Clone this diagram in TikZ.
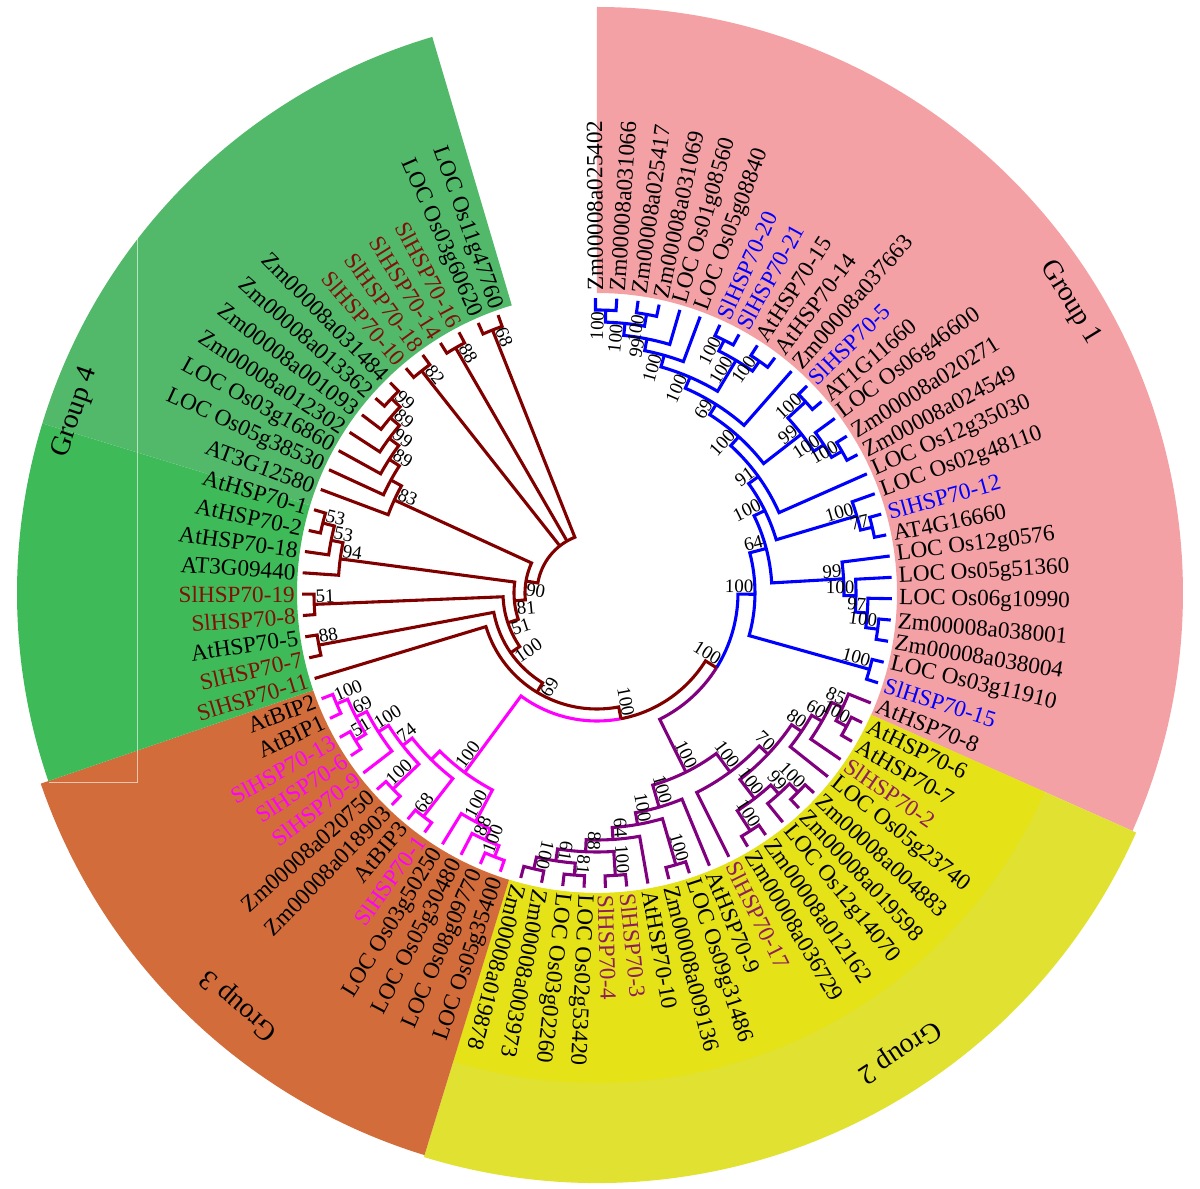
\documentclass[tikz,border=0pt]{standalone}
\usepackage{fontspec}
\setmainfont{Liberation Serif}
\usepackage{xcolor}
\usepackage{tikz}
\usetikzlibrary{positioning}

\definecolor{grpone}{RGB}{244,161,166}
\definecolor{grptwo}{RGB}{229,226,24}
\definecolor{grptwoout}{RGB}{225,225,50}
\definecolor{grpthree}{RGB}{211,108,59}
\definecolor{grpfour}{RGB}{82,185,106}
\definecolor{grpfourlow}{RGB}{62,187,88}
\definecolor{brblue}{RGB}{0,0,255}
\definecolor{brpurple}{RGB}{128,0,128}
\definecolor{brmag}{RGB}{255,0,255}
\definecolor{brbrown}{RGB}{128,0,0}
\definecolor{slpurple}{RGB}{140,30,90}
\definecolor{slbrown}{RGB}{128,16,8}

% angle of leaf position p
\newcommand\ang[1]{(90.3-4.155*((#1)-1))}
% node: radius, child p1 at r1, child p2 at r2
\newcommand\nd[6][]{\draw[#1] ({\ang{#3}}:#4) -- ({\ang{#3}}:#2) arc[start angle={\ang{#3}}, end angle={\ang{#5}}, radius=#2] -- ({\ang{#5}}:#6);}
% half node: radius, child p at rc, node p
\newcommand\hb[5][]{\draw[#1] ({\ang{#3}}:#4) -- ({\ang{#3}}:#2) arc[start angle={\ang{#3}}, end angle={\ang{#5}}, radius=#2];}
\newcommand\rb[4][]{\draw[#1] ({\ang{#2}}:#3) -- ({\ang{#2}}:#4);}
% leaf labels
\newcommand\lfr[3][black]{\node[leaf, anchor=west, text=#1, rotate={\ang{#2}}] (L#2) at ({\ang{#2}}:302) {#3};}
\newcommand\lfl[3][black]{\node[leaf, anchor=east, text=#1, rotate={\ang{#2}+180}] (L#2) at ({\ang{#2}}:302) {#3};}
% bootstrap values
\newcommand\bsr[4]{\node[bsn, anchor=south east, rotate={\ang{#2}}] (#1) at ({\ang{#2}}:#3) {#4};}
\newcommand\bsl[4]{\node[bsn, anchor=south west, rotate={\ang{#2}+180}] (#1) at ({\ang{#2}}:#3) {#4};}
\newcommand\bsb[4]{\node[bsn, anchor=north west, rotate={\ang{#2}+180}] (#1) at ({\ang{#2}}:#3) {#4};}
% sector
\newcommand\sect[5]{\fill[#1] (#2:#4) arc[start angle=#2, end angle=#3, radius=#4] -- (#3:#5) arc[start angle=#3, end angle=#2, radius=#5] -- cycle;}

\begin{document}
\begin{tikzpicture}[x=0.25mm, y=0.25mm,
	tree/.style={line width=2.2pt, line join=miter},
	gb/.style={tree, brblue}, gp/.style={tree, brpurple},
	gm/.style={tree, brmag}, gr/.style={tree, brbrown},
	leaf/.style={inner sep=0pt, font=\fontsize{16.5}{18}\selectfont},
	bsn/.style={inner sep=1pt, font=\fontsize{13.5}{14}\selectfont},
	grp/.style={font=\fontsize{20}{22}\selectfont}]
	\useasboundingbox (-597,-596) rectangle (603,593);

	% group backgrounds
	\sect{grpone}{90}{-23.96}{300}{586}
	\sect{grptwoout}{-23.96}{-107.06}{300}{590}
	\sect{grptwo}{-23.96}{-107.06}{300}{490}
	\sect{grpthree}{-107.06}{-161.08}{300}{588}
	\sect{grpfourlow}{-161.08}{-197}{300}{580}
	\sect{grpfour}{-197}{-253.5}{300}{580}
	\draw[white, opacity=.6, line width=0.6pt] (-460,365) -- (-460,-189) -- (-548,-189);

	% group 1
	\nd[gb]{283}{1}{295}{2}{295}
	\nd[gb]{283}{3}{295}{4}{295}
	\nd[gb]{271}{1.5}{283}{3.5}{283}
	\nd[gb]{259}{2.5}{271}{5}{295}
	\nd[gb]{247}{3.75}{259}{6}{295}
	\nd[gb]{283}{7}{295}{8}{295}
	\nd[gb]{283}{9}{295}{10}{295}
	\nd[gb]{271}{7.5}{283}{9.5}{283}
	\nd[gb]{235}{4.875}{247}{8.5}{271}
	\nd[gb]{223}{6.6875}{235}{11}{295}
	\nd[gb]{283}{12}{295}{13}{295}
	\nd[gb]{283}{15}{295}{16}{295}
	\nd[gb]{271}{14}{295}{15.5}{283}
	\nd[gb]{259}{12.5}{283}{14.75}{271}
	\nd[gb]{211}{8.84375}{223}{13.625}{259}
	\nd[gb]{199}{11.234375}{211}{17}{295}
	\nd[gb]{283}{19}{295}{20}{295}
	\nd[gb]{271}{18}{295}{19.5}{283}
	\nd[gb]{187}{14.1171875}{199}{18.75}{271}
	\nd[gb]{283}{24}{295}{25}{295}
	\nd[gb]{271}{23}{295}{24.5}{283}
	\nd[gb]{259}{22}{295}{23.75}{271}
	\nd[gb]{247}{21}{295}{22.875}{259}
	\nd[gb]{175}{16.43359375}{187}{21.9375}{247}
	\nd[gb]{283}{26}{295}{27}{295}
	\nd[gb]{158}{19.185546875}{175}{26.5}{283}

	% group 2
	\nd[gp]{283}{29}{295}{30}{295}
	\nd[gp]{271}{28}{295}{29.5}{283}
	\nd[gp]{259}{28.75}{271}{31}{295}
	\nd[gp]{247}{29.875}{259}{32}{295}
	\nd[gp]{283}{33}{295}{34}{295}
	\nd[gp]{271}{33.5}{283}{35}{295}
	\nd[gp]{283}{36}{295}{37}{295}
	\nd[gp]{259}{34.25}{271}{36.5}{283}
	\nd[gp]{235}{30.9375}{247}{35.375}{259}
	\nd[gp]{223}{33.15625}{235}{38}{295}
	\nd[gp]{283}{47}{295}{48}{295}
	\nd[gp]{283}{45}{295}{46}{295}
	\nd[gp]{271}{45.5}{283}{47.5}{283}
	\nd[gp]{283}{43}{295}{44}{295}
	\nd[gp]{259}{43.5}{283}{46.5}{271}
	\nd[gp]{247}{42}{295}{45}{259}
	\nd[gp]{283}{40}{295}{41}{295}
	\nd[gp]{235}{40.5}{283}{43.5}{247}
	\nd[gp]{223}{39}{295}{42}{235}
	\nd[gp]{200}{35.578125}{223}{40.5}{223}

	% group 3
	\nd[gm]{283}{60}{295}{61}{295}
	\nd[gm]{283}{58}{295}{59}{295}
	\nd[gm]{271}{58.5}{283}{60.5}{283}
	\nd[gm]{259}{57}{295}{59.5}{271}
	\nd[gm]{283}{55}{295}{56}{295}
	\nd[gm]{247}{55.5}{283}{58.25}{259}
	\nd[gm]{283}{53}{295}{54}{295}
	\nd[gm]{235}{53.5}{283}{56.875}{247}
	\nd[gm]{283}{49}{295}{50}{295}
	\nd[gm]{271}{49.5}{283}{51}{295}
	\nd[gm]{259}{50.25}{271}{52}{295}
	\nd[gm]{223}{51.125}{259}{55.1875}{235}

	% group 4
	\nd[gr]{283}{63}{295}{64}{295}
	\nd[gr]{283}{65}{295}{66}{295}
	\nd[gr]{283}{69}{295}{70}{295}
	\nd[gr]{271}{68}{295}{69.5}{283}
	\nd[gr]{259}{67}{295}{68.75}{271}
	\nd[gr]{283}{76}{295}{77}{295}
	\nd[gr]{271}{75}{295}{76.5}{283}
	\nd[gr]{259}{74}{295}{75.75}{271}
	\nd[gr]{247}{73}{295}{74.875}{259}
	\nd[gr]{235}{72}{295}{73.9375}{247}
	\nd[gr]{223}{71}{295}{72.96875}{235}
	\nd[gr]{283}{78}{295}{79}{295}
	\nd[gr]{283}{80}{295}{81}{295}
	\nd[gr]{283}{82}{295}{83}{295}

	% backbone
	\hb[gb]{141}{22.8427734375}{158}{30.44091796875}
	\hb[gp]{141}{38.0390625}{200}{30.44091796875}
	\hb[gm]{128}{53.15625}{223}{41.798583984375}
	\hb[gr]{128}{30.44091796875}{141}{41.798583984375}
	\nd[gr]{116}{41.798583984375}{128}{62}{295}
	\nd[gr]{105}{51.8992919921875}{116}{63.5}{283}
	\nd[gr]{94}{57.69964599609375}{105}{65.5}{283}
	\nd[gr]{83}{61.599823}{94}{67.875}{259}
	\nd[gr]{72}{64.737411}{83}{71.984375}{223}
	\nd[gr]{60}{68.360893}{72}{82.5}{283}
	\rb[gr]{78.5}{60}{283}
	\rb[gr]{80.5}{60}{283}

	% bootstrap values
	\bsr{bA1}{1.5}{283}{100} \bsr{bA2}{3.5}{283}{100} \bsr{bA3}{2.5}{271}{100}
	\bsr{bA4}{3.75}{259}{99} \bsr{bA5}{4.875}{247}{100}
	\bsr{bB1}{7.5}{283}{100} \bsr{bB2}{9.5}{283}{100} \bsr{bB3}{8.5}{271}{100}
	\bsr{bAB}{6.6875}{235}{100} \bsr{bAC}{8.84375}{223}{69}
	\bsr{bC1}{12.5}{283}{100} \bsr{bC2}{15.5}{283}{100} \bsr{bC3}{14.75}{271}{100}
	\bsr{bC4}{13.625}{259}{99} \bsr{bN7}{11.234375}{211}{100} \bsr{bN8}{14.1171875}{199}{91}
	\bsr{bD2}{19.5}{283}{77} \bsr{bD3}{18.75}{271}{100} \bsr{bN9}{16.43359375}{187}{100}
	\bsr{bE1}{24.5}{283}{100} \bsr{bE2}{23.75}{271}{97} \bsr{bE3}{22.875}{259}{100}
	\bsr{bE4}{21.9375}{247}{99} \bsr{bN10}{19.185546875}{175}{64}
	\bsr{bE5}{26.5}{283}{100} \bsr{bG1}{22.8427734375}{158}{100}
	\bsr{bF1}{29.5}{283}{100} \bsr{bF2}{28.75}{271}{85} \bsr{bF3}{29.875}{259}{60}
	\bsr{bF4}{30.9375}{247}{80} \bsr{bF5}{33.5}{283}{100} \bsr{bF6}{34.25}{271}{99}
	\bsr{bF7}{36.5}{283}{100} \bsr{bF8}{35.375}{259}{100} \bsr{bF9}{33.15625}{235}{70}
	\bsr{bX2}{35.578125}{223}{100}
	\bsr{bH1}{47.5}{283}{100} \bsr{bH2}{45.5}{283}{81} \bsr{bH3}{46.5}{271}{61}
	\bsr{bH4}{43.5}{283}{100} \bsr{bH5}{45}{259}{88} \bsr{bH6}{43.5}{247}{64}
	\bsr{bH7}{40.5}{283}{100} \bsr{bH8}{42}{235}{100} \bsr{bH9}{40.5}{223}{100}
	\bsr{bG2}{38.0390625}{200}{100}
	\bsl{bI1}{60.5}{283}{100} \bsl{bI2}{58.5}{283}{51} \bsl{bI3}{59.5}{271}{69}
	\bsl{bI4}{58.25}{259}{100} \bsl{bI5}{55.5}{283}{100} \bsl{bI6}{56.875}{247}{74}
	\bsl{bI7}{53.5}{283}{68}
	\bsl{bJ1}{49.5}{283}{100} \bsl{bJ2}{50.25}{271}{88} \bsl{bJ3}{51.125}{259}{100}
	\bsl{bG3}{53.15625}{223}{100}
	\bsl{bS7}{63.5}{283}{88} \bsl{bS6}{65.5}{283}{51}
	\bsl{bM1}{69.5}{283}{53} \bsl{bM2}{68.75}{271}{53} \bsl{bM3}{67.875}{259}{94}
	\bsl{bN1}{76.5}{283}{99} \bsl{bN2}{75.75}{271}{89} \bsl{bN3}{74.875}{259}{99}
	\bsl{bN4}{73.9375}{247}{89} \bsl{bN6}{71.984375}{223}{83}
	\bsl{bS3}{78.5}{283}{82} \bsl{bS2}{80.5}{283}{88} \bsl{bS1}{82.5}{283}{68}
	\bsr{bRt}{30.44091796875}{141}{100} \bsr{bQ}{41.798583984375}{128}{100}
	\bsb{bR5}{51.8992919921875}{116}{69} \bsb{bR4}{57.69964599609375}{105}{100}
	\bsb{bR3}{61.599823}{94}{51} \bsb{bR2}{64.737411}{83}{81} \bsb{bR1}{68.360893}{72}{90}

	% leaf labels
	\lfr{1}{Zm00008a025402} \lfr{2}{Zm00008a031066} \lfr{3}{Zm00008a025417}
	\lfr{4}{Zm00008a031069} \lfr{5}{LOC Os01g08560} \lfr{6}{LOC Os05g08840}
	\lfr[brblue]{7}{SlHSP70-20} \lfr[brblue]{8}{SlHSP70-21} \lfr{9}{AtHSP70-15}
	\lfr{10}{AtHSP70-14} \lfr{11}{Zm00008a037663} \lfr[brblue]{12}{SlHSP70-5}
	\lfr{13}{AT1G11660} \lfr{14}{LOC Os06g46600} \lfr{15}{Zm00008a020271}
	\lfr{16}{Zm00008a024549} \lfr{17}{LOC Os12g35030} \lfr{18}{LOC Os02g48110}
	\lfr[brblue]{19}{SlHSP70-12} \lfr{20}{AT4G16660} \lfr{21}{LOC Os12g0576}
	\lfr{22}{LOC Os05g51360} \lfr{23}{LOC Os06g10990} \lfr{24}{Zm00008a038001}
	\lfr{25}{Zm00008a038004} \lfr{26}{LOC Os03g11910} \lfr[brblue]{27}{SlHSP70-15}
	\lfr{28}{AtHSP70-8} \lfr{29}{AtHSP70-6} \lfr{30}{AtHSP70-7}
	\lfr[slpurple]{31}{SlHSP70-2} \lfr{32}{LOC Os05g23740} \lfr{33}{Zm00008a004883}
	\lfr{34}{Zm00008a019598} \lfr{35}{LOC Os12g14070} \lfr{36}{Zm00008a012162}
	\lfr{37}{Zm00008a036729} \lfr[slpurple]{38}{SlHSP70-17} \lfr{39}{AtHSP70-9}
	\lfr{40}{LOC Os09g31486} \lfr{41}{Zm00008a009136} \lfr{42}{AtHSP70-10}
	\lfr[slpurple]{43}{SlHSP70-3} \lfr[slpurple]{44}{SlHSP70-4} \lfr{45}{LOC Os02g53420}
	\lfr{46}{LOC Os03g02260} \lfr{47}{Zm00008a003973} \lfr{48}{Zm00008a019878}
	\lfl{49}{LOC Os05g35400} \lfl{50}{LOC Os08g09770} \lfl{51}{LOC Os05g30480}
	\lfl{52}{LOC Os03g50250} \lfl[brmag]{53}{SlHSP70-1} \lfl{54}{AtBIP3}
	\lfl{55}{Zm00008a018903} \lfl{56}{Zm00008a020750} \lfl[brmag]{57}{SlHSP70-9}
	\lfl[brmag]{58}{SlHSP70-6} \lfl[brmag]{59}{SlHSP70-13} \lfl{60}{AtBIP1}
	\lfl{61}{AtBIP2} \lfl[slbrown]{62}{SlHSP70-11} \lfl[slbrown]{63}{SlHSP70-7}
	\lfl{64}{AtHSP70-5} \lfl[slbrown]{65}{SlHSP70-8} \lfl[slbrown]{66}{SlHSP70-19}
	\lfl{67}{AT3G09440} \lfl{68}{AtHSP70-18} \lfl{69}{AtHSP70-2}
	\lfl{70}{AtHSP70-1} \lfl{71}{AT3G12580} \lfl{72}{LOC Os05g38530}
	\lfl{73}{LOC Os03g16860} \lfl{74}{Zm00008a012302} \lfl{75}{Zm00008a001093}
	\lfl{76}{Zm00008a013362} \lfl{77}{Zm00008a031484} \lfl[slbrown]{78}{SlHSP70-10}
	\lfl[slbrown]{79}{SlHSP70-18} \lfl[slbrown]{80}{SlHSP70-14} \lfl[slbrown]{81}{SlHSP70-16}
	\lfl{82}{LOC Os03g60620} \lfl{83}{LOC Os11g47760}

	% group names
	\node[grp, rotate=-58.5] (g1) at (31.5:555) {Group 1};
	\node[grp, rotate=-146.6] (g2) at (-56.6:549) {Group 2};
	\node[grp, rotate=139] (g3) at (-131:545) {Group 3};
	\node[grp, rotate=70.9] (g4) at (160.9:552) {Group 4};
\end{tikzpicture}
\end{document}
